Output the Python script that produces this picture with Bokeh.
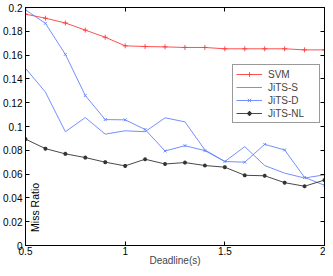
from bokeh.plotting import figure
from bokeh.models import (Range1d, LinearAxis, FixedTicker, Legend, LegendItem, Label)
from bokeh.embed import file_html
from bokeh.resources import INLINE
import math

deadline = [0.5, 0.6, 0.7, 0.8, 0.9, 1.0, 1.1, 1.2, 1.3, 1.4, 1.5, 1.6, 1.7, 1.8, 1.9, 2.0]
svm = [0.1944, 0.191, 0.187, 0.181, 0.175, 0.1678, 0.1672, 0.1669, 0.1664, 0.1664,
       0.1653, 0.1653, 0.1653, 0.1653, 0.1644, 0.1644]
jits_s = [0.1489, 0.1289, 0.0956, 0.1075, 0.0936, 0.0964, 0.0956, 0.1073, 0.1039, 0.0803,
          0.0706, 0.0831, 0.0672, 0.0608, 0.0567, 0.0594]
jits_d = [0.198, 0.1867, 0.1606, 0.126, 0.1058, 0.1056, 0.0975, 0.0794, 0.0839, 0.0797,
          0.0706, 0.0700, 0.085, 0.0803, 0.0572, 0.0506]
jits_nl = [0.0894, 0.0814, 0.0770, 0.0739, 0.0700, 0.0669, 0.0725, 0.0685, 0.0697, 0.0672,
           0.0658, 0.0590, 0.0586, 0.0528, 0.0498, 0.0550]
x_ticks = [0.5, 1, 1.5, 2]
y_ticks = [0, 0.02, 0.04, 0.06, 0.08, 0.1, 0.12, 0.14, 0.16, 0.18, 0.2]

FONT = "Liberation Sans"
RED = "#ff3b3b"
BLUE = "#6482ff"
BLACK = "#333333"

p = figure(width=325, height=268, output_backend="svg", toolbar_location=None,
           x_range=Range1d(0.5, 2), y_range=Range1d(0, 0.2),
           min_border_left=0, min_border_right=1, min_border_top=7, min_border_bottom=0,
           x_axis_label="Deadline(s)")
p.background_fill_color = "white"
p.border_fill_color = "white"
p.outline_line_color = "black"
p.grid.visible = False

for ax in (p.xaxis[0], p.yaxis[0]):
    ax.major_tick_in = 4
    ax.major_tick_out = 0
    ax.minor_tick_line_color = None
    ax.axis_line_color = "black"
    ax.major_tick_line_color = "black"
    ax.major_label_text_font = FONT
    ax.major_label_text_font_size = "10px"
    ax.major_label_text_color = "black"
    ax.axis_label_text_font = FONT
    ax.axis_label_text_font_size = "10px"
    ax.axis_label_text_font_style = "normal"
    ax.major_label_standoff = 3

p.xaxis[0].ticker = FixedTicker(ticks=x_ticks)
p.yaxis[0].ticker = FixedTicker(ticks=y_ticks)
p.yaxis[0].major_label_overrides = {t: ("%g" % t) for t in y_ticks}
p.xaxis[0].major_label_overrides = {t: ("%g" % t) for t in x_ticks}
p.xaxis[0].major_label_standoff = 1
p.xaxis[0].axis_label_standoff = -3

top = LinearAxis(ticker=FixedTicker(ticks=x_ticks), major_tick_in=4, major_tick_out=0,
                 minor_tick_line_color=None, major_label_text_font_size="0px",
                 major_label_text_color=None,
                 major_label_standoff=0, axis_line_color="black")
right = LinearAxis(ticker=FixedTicker(ticks=y_ticks), major_tick_in=4, major_tick_out=0,
                   minor_tick_line_color=None, major_label_text_font_size="0px",
                   major_label_text_color=None,
                   major_label_standoff=0, axis_line_color="black")
p.add_layout(top, "above")
p.add_layout(right, "right")

r_svm_l = p.line(deadline, svm, line_color=RED, line_width=0.9)
r_svm_m = p.scatter(deadline, svm, marker="cross", size=5, line_color=RED, line_width=0.9)
r_s_l = p.line(deadline, jits_s, line_color=BLUE, line_width=0.9)
r_d_l = p.line(deadline, jits_d, line_color=BLUE, line_width=0.9)
r_d_m = p.scatter(deadline, jits_d, marker="x", size=4, line_color=BLUE, line_width=0.9)
r_nl_l = p.line(deadline, jits_nl, line_color=BLACK, line_width=0.9)
r_nl_m = p.scatter(deadline, jits_nl, marker="asterisk", size=4, line_color=BLACK, line_width=1.2)

legend = Legend(items=[
    LegendItem(label="SVM", renderers=[r_svm_l, r_svm_m]),
    LegendItem(label="JiTS-S", renderers=[r_s_l]),
    LegendItem(label="JiTS-D", renderers=[r_d_l, r_d_m]),
    LegendItem(label="JiTS-NL", renderers=[r_nl_l, r_nl_m]),
])
legend.label_text_font = FONT
legend.label_text_font_size = "10px"
legend.glyph_width = 26
legend.glyph_height = 12
legend.label_height = 12
legend.label_width = 48
legend.label_standoff = 6
legend.spacing = 1
legend.padding = 3
legend.margin = 0
legend.border_line_color = "#333333"
legend.border_line_width = 1
legend.background_fill_color = "white"
legend.background_fill_alpha = 1
p.add_layout(legend, "center")
legend.location = (207, 122)

ylab = Label(x=0.548, y=0.032, text="Miss Ratio", angle=math.pi / 2,
             text_align="center", text_baseline="alphabetic",
             text_font=FONT, text_font_size="10.5px", text_color="black")
p.add_layout(ylab)

open("out.html", "w").write(file_html(p, INLINE))
